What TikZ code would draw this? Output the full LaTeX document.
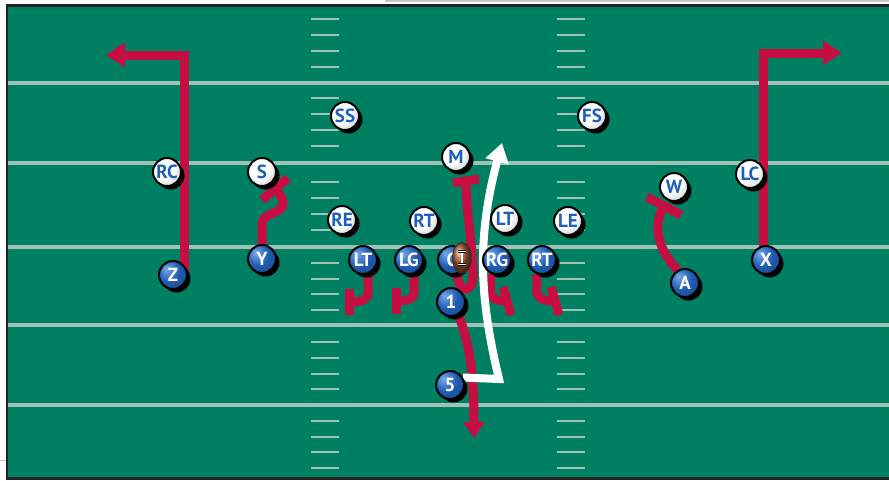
\documentclass[tikz,border=0pt]{standalone}
\usepackage{fontspec}
\setmainfont{PT Sans}
\usetikzlibrary{arrows.meta,shadows,shapes.geometric}

\definecolor{turf}{RGB}{0,128,98}
\definecolor{chalk}{RGB}{160,194,182}
\definecolor{crimson}{RGB}{199,14,66}
\definecolor{oblue}{RGB}{32,92,178}
\definecolor{obluelight}{RGB}{120,170,235}
\definecolor{dblue}{RGB}{28,96,186}
\definecolor{pigskin}{RGB}{165,85,40}
\definecolor{rim}{RGB}{35,35,35}

\pgfdeclareradialshading{dball}{\pgfpoint{-12bp}{12bp}}{color(0bp)=(white); color(20bp)=(white); color(42bp)=(black!25); color(70bp)=(black!55)}
\pgfdeclareradialshading{oball}{\pgfpoint{-12bp}{12bp}}{color(0bp)=(obluelight); color(20bp)=(oblue); color(45bp)=(oblue!70!black); color(70bp)=(oblue!35!black)}

\pgfdeclarelayer{field}
\pgfdeclarelayer{routes}
\pgfsetlayers{field,routes,main}

\tikzset{
  player/.style={circle, minimum size=28pt, inner sep=0pt, draw=black, line width=2pt,
    font=\bfseries\fontsize{19}{19}\selectfont,
    drop shadow={shadow xshift=3.5pt, shadow yshift=-3.5pt, opacity=1, fill=black}},
  dplayer/.style={player, shading=dball, text=dblue},
  oplayer/.style={player, shading=oball, text=white},
  run/.style={draw=crimson, line width=9pt},
  qbrun/.style={draw=white, line width=8pt},
  yardline/.style={draw=chalk, line width=4pt},
  hashmark/.style={draw=chalk, line width=2.5pt},
  football/.style={ellipse, minimum width=19pt, minimum height=31pt, inner sep=0pt,
    draw=black!80, line width=0.8pt, ball color=pigskin},
  lace/.style={draw=black, line width=0.6pt, double=white, double distance=1.6pt}
}

\begin{document}
\begin{tikzpicture}[x=1pt,y=-1pt]
  \useasboundingbox (0,0) rectangle (889,480);

  \begin{pgfonlayer}{field}
    \fill[turf] (7,5.5) rectangle (889,478.5);
    \foreach \y in {82.5,163,247,325,405}
      \draw[yardline] (8,\y) -- (889,\y);
    \foreach \y in {19,35,51,67,98,114,130,146,182,198,214,230,
                    263,279,294,310,342,358,374,389,421,437,452,468} {
      \draw[hashmark] (311,\y) -- (339,\y);
      \draw[hashmark] (557,\y) -- (585,\y);
    }
    \draw[rim,line width=2.5pt] (889,5.5) -- (7,5.5) -- (7,478.5) -- (889,478.5);
    \draw[gray!45,line width=1.5pt] (385,0.75) -- (889,0.75);
    \draw[gray!45,line width=1pt] (0,460) -- (6,460);
  \end{pgfonlayer}

  % defense
  \node[dplayer] (ss) at (345,116) {SS};
  \node[dplayer] (fs) at (592,116) {FS};
  \node[dplayer] (mike) at (456,157) {M};
  \node[dplayer] (rc) at (167,172) {RC};
  \node[dplayer] (sam) at (262,172) {S};
  \node[dplayer] (will) at (674,187) {W};
  \node[dplayer] (lc) at (750,174) {LC};
  \node[dplayer] (re) at (342,220) {RE};
  \node[dplayer] (rdt) at (424,221) {RT};
  \node[dplayer] (ldt) at (505,219) {LT};
  \node[dplayer] (le) at (568,221) {LE};

  % offense
  \node[oplayer] (lt) at (363,260) {LT};
  \node[oplayer] (lg) at (409,260) {LG};
  \node[oplayer] (ctr) at (452,260) {C};
  \node[oplayer] (rg) at (497,260) {RG};
  \node[oplayer] (rt) at (542,260) {RT};
  \node[oplayer] (zwr) at (173,275) {Z};
  \node[oplayer] (yte) at (262,259) {Y};
  \node[oplayer] (aback) at (685,283) {A};
  \node[oplayer] (xwr) at (766,260) {X};
  \node[oplayer] (hb) at (451,302) {1};
  \node[oplayer] (qb) at (450,385) {5};

  \node[football] (ball) at (462,258) {};
  \draw[lace] ([yshift=6.5pt]ball.center) -- ([yshift=-6.5pt]ball.center);
  \draw[lace] ([shift={(-4pt,6.5pt)}]ball.center) -- ([shift={(4pt,6.5pt)}]ball.center);
  \draw[lace] ([shift={(-4pt,-6.5pt)}]ball.center) -- ([shift={(4pt,-6.5pt)}]ball.center);

  \begin{pgfonlayer}{routes}
    \coordinate (zend) at (106,55);
    \coordinate (xend) at (842,53);
    \coordinate (sblk) at (275,189);
    \coordinate (wblk) at (664,206);
    \coordinate (cblk) at (466,181);
    \coordinate (ltblk) at (349,302);
    \coordinate (lgblk) at (396,301);
    \coordinate (rgblk) at (507,301);
    \coordinate (rtblk) at (555,301);
    \coordinate (hbend) at (474,438);
    \coordinate (qbend) at (502,143);

    \draw[run,-{Triangle[length=19pt,width=24pt]}] ([xshift=11pt]zwr.center) |- (zend);
    \draw[run,-{Triangle[length=19pt,width=23pt]}] ([xshift=-2.5pt]xwr.center) |- (xend);

    \draw[run] (yte.north) -- (262,224) .. controls (262,212) and (284,214) .. (283,203)
      .. controls (283,198) and (279,193) .. (sblk);
    \draw[run] (sblk) ++(-13,11) -- ++(26,-22);
    \draw[run] (aback.120) .. controls (658,250) and (652,225) .. (wblk);
    \draw[run] (wblk) ++(-17,-9) -- ++(34,18);

    \draw[run] (ctr.-70) .. controls (458,293) and (474,296) .. (473,272)
      .. controls (472,240) and (466,210) .. (cblk);
    \draw[run] (cblk) ++(-13,2) -- ++(26,-4);

    \draw[run] (lt.-70) -- ++(0,18) .. controls (368,301) and (359,302) .. (ltblk);
    \draw[run] (ltblk) ++(0,-13) -- ++(0,26);
    \draw[run] (lg.-70) -- ++(0,18) .. controls (414,300) and (405,301) .. (lgblk);
    \draw[run] (lgblk) ++(0,-13) -- ++(0,26);
    \draw[run] (rg.-115) -- ++(0,18) .. controls (491,300) and (498,301) .. (rgblk);
    \draw[run] (rgblk) ++(-4,-14) -- ++(8,28);
    \draw[run] (rt.-110) -- ++(0,18) .. controls (538,300) and (546,301) .. (rtblk);
    \draw[run] (rtblk) ++(-4,-14) -- ++(8,28);

    \draw[run,-{Triangle[length=16pt,width=21pt]}] (hb.-60) .. controls (470,345) and (474,375) .. (hbend);
    \draw[qbrun,-{Triangle[length=19pt,width=23pt]}] (qb.30) -- (499,379)
      .. controls (480,300) and (476,240) .. (qbend);
  \end{pgfonlayer}
\end{tikzpicture}
\end{document}
